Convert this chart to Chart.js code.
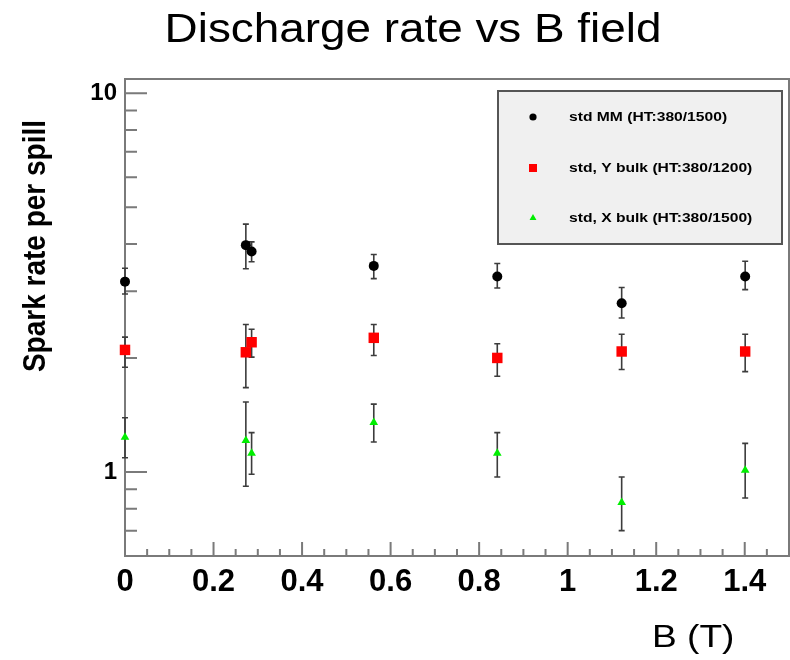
<!DOCTYPE html>
<html>
<head>
<meta charset="utf-8">
<title>Discharge rate vs B field</title>
<script src="https://cdn.jsdelivr.net/npm/chart.js@4.4.1/dist/chart.umd.min.js"></script>
<style>
  body { margin: 0; background: #ffffff; }
  #grafico { display: block; }
</style>
</head>
<body>
<canvas id="grafico" width="790" height="660"></canvas>
<script>
// Campo magnetico (T)
const bField = [0, 0.273, 0.286, 0.562, 0.841, 1.122, 1.401];

// std MM (HT:380/1500)
const mmRate = [3.18, 3.97, 3.82, 3.50, 3.28, 2.79, 3.28];
const mmLow  = [2.95, 3.44, 3.59, 3.24, 3.06, 2.55, 3.03];
const mmHigh = [3.45, 4.51, 4.05, 3.75, 3.55, 3.07, 3.60];

// std, Y bulk (HT:380/1200)
const yBulkRate = [2.10, 2.07, 2.20, 2.26, 2.00, 2.08, 2.08];
const yBulkLow  = [1.89, 1.67, 2.01, 2.03, 1.79, 1.865, 1.84];
const yBulkHigh = [2.27, 2.45, 2.38, 2.45, 2.18, 2.31, 2.31];

// std, X bulk (HT:380/1500)
const xBulkRate = [1.235, 1.21, 1.12, 1.35, 1.12, 0.83, 1.01];
const xBulkLow  = [1.09, 0.917, 0.986, 1.20, 0.97, 0.70, 0.854];
const xBulkHigh = [1.39, 1.53, 1.27, 1.51, 1.27, 0.97, 1.19];

const seriesLabels = ["std MM (HT:380/1500)", "std, Y bulk (HT:380/1200)", "std, X bulk (HT:380/1500)"];

const xTickValues = [0, 0.2, 0.4, 0.6, 0.8, 1.0, 1.2, 1.4];
const xTickLabels = ["0", "0.2", "0.4", "0.6", "0.8", "1", "1.2", "1.4"];
const yTickValues = [1, 10];
const yTickLabels = ["1", "10"];
const yMinorTicks = [0.6, 0.7, 0.8, 0.9, 2, 3, 4, 5, 6, 7, 8, 9];

const FONT = "'Liberation Sans', Arial, sans-serif";

function puntos(valores, bajos, altos) {
    return bField.map((b, i) => ({ x: b, y: valores[i], yMin: bajos[i], yMax: altos[i] }));
}

// Marco y marcas hacia dentro, estilo ROOT
const marco = {
    id: "marco",
    beforeDatasetsDraw(chart) {
        const ctx = chart.ctx;
        const a = chart.chartArea;
        const sx = chart.scales.x, sy = chart.scales.y;
        ctx.save();
        ctx.strokeStyle = "#7a7a7a";
        ctx.lineWidth = 2;
        ctx.strokeRect(a.left, a.top, a.right - a.left, a.bottom - a.top);
        ctx.beginPath();
        yTickValues.forEach(v => {
            const py = sy.getPixelForValue(v);
            ctx.moveTo(a.left, py); ctx.lineTo(a.left + 22, py);
        });
        yMinorTicks.forEach(v => {
            const py = sy.getPixelForValue(v);
            ctx.moveTo(a.left, py); ctx.lineTo(a.left + 12, py);
        });
        for (let i = 1; i <= 29; i++) {
            const px = sx.getPixelForValue(i * 0.05);
            const largo = i % 4 === 0 ? 14 : 7;
            ctx.moveTo(px, a.bottom); ctx.lineTo(px, a.bottom - largo);
        }
        ctx.stroke();
        ctx.restore();
    }
};

// Barras de error verticales
const barrasError = {
    id: "barrasError",
    beforeDatasetsDraw(chart) {
        const ctx = chart.ctx;
        const sx = chart.scales.x, sy = chart.scales.y;
        ctx.save();
        ctx.strokeStyle = "#3c3c3c";
        ctx.lineWidth = 1.6;
        chart.data.datasets.forEach(ds => {
            ds.data.forEach(p => {
                const px = sx.getPixelForValue(p.x);
                const top = sy.getPixelForValue(p.yMax);
                const bot = sy.getPixelForValue(p.yMin);
                ctx.beginPath();
                ctx.moveTo(px, top); ctx.lineTo(px, bot);
                ctx.moveTo(px - 3, top); ctx.lineTo(px + 3, top);
                ctx.moveTo(px - 3, bot); ctx.lineTo(px + 3, bot);
                ctx.stroke();
            });
        });
        ctx.restore();
    }
};

// Titulo, titulos de ejes y leyenda
const textos = {
    id: "textos",
    afterDraw(chart) {
        const ctx = chart.ctx;
        ctx.save();
        ctx.fillStyle = "#000000";

        // titulo
        ctx.save();
        ctx.translate(413, 42);
        ctx.scale(1.146, 1);
        ctx.font = "40px " + FONT;
        ctx.textAlign = "center";
        ctx.textBaseline = "alphabetic";
        ctx.fillText("Discharge rate vs B field", 0, 0);
        ctx.restore();

        // eje x
        ctx.save();
        ctx.translate(652, 647);
        ctx.scale(1.16, 1);
        ctx.font = "32px " + FONT;
        ctx.textAlign = "left";
        ctx.fillText("B (T)", 0, 0);
        ctx.restore();

        // eje y
        ctx.save();
        ctx.translate(45, 246);
        ctx.rotate(-Math.PI / 2);
        ctx.scale(1, 1.15);
        ctx.font = "bold 28px " + FONT;
        ctx.textAlign = "center";
        ctx.fillText("Spark rate per spill", 0, 0);
        ctx.restore();

        // leyenda
        ctx.fillStyle = "#f0f0f0";
        ctx.fillRect(498, 91, 284, 153);
        ctx.strokeStyle = "#555555";
        ctx.lineWidth = 2;
        ctx.strokeRect(498, 91, 284, 153);
        const filas = [117, 168, 218];
        chart.data.datasets.forEach((ds, i) => {
            ctx.fillStyle = ds.backgroundColor;
            Chart.helpers.drawPoint(ctx, { pointStyle: ds.pointStyle, radius: ds.legendRadius, borderWidth: 0, rotation: 0 }, 533, filas[i]);
            ctx.save();
            ctx.translate(569, filas[i]);
            ctx.scale(1.15, 1);
            ctx.fillStyle = "#000000";
            ctx.font = "bold 13.6px " + FONT;
            ctx.textBaseline = "middle";
            ctx.fillText(ds.label, 0, 0);
            ctx.restore();
        });
        ctx.restore();
    }
};

document.addEventListener("DOMContentLoaded", function () {
    const ctx = document.getElementById("grafico").getContext("2d");

    new Chart(ctx, {
        type: "scatter",
        data: {
            datasets: [
                {
                    label: seriesLabels[0],
                    data: puntos(mmRate, mmLow, mmHigh),
                    pointStyle: "circle",
                    pointRadius: 5,
                    legendRadius: 3.6,
                    backgroundColor: "#000000",
                    borderColor: "#000000",
                    borderWidth: 0,
                    clip: false
                },
                {
                    label: seriesLabels[1],
                    data: puntos(yBulkRate, yBulkLow, yBulkHigh),
                    pointStyle: "rect",
                    pointRadius: 7.4,
                    legendRadius: 5.7,
                    backgroundColor: "#ff0000",
                    borderColor: "#ff0000",
                    borderWidth: 0,
                    clip: false
                },
                {
                    label: seriesLabels[2],
                    data: puntos(xBulkRate, xBulkLow, xBulkHigh),
                    pointStyle: "triangle",
                    pointRadius: 5,
                    legendRadius: 4,
                    backgroundColor: "#00ee00",
                    borderColor: "#00ee00",
                    borderWidth: 0,
                    clip: false
                }
            ]
        },
        options: {
            responsive: false,
            animation: false,
            layout: { autoPadding: false, padding: { top: 79, right: 1, left: 0, bottom: 0 } },
            plugins: {
                legend: { display: false },
                tooltip: { enabled: false }
            },
            scales: {
                x: {
                    type: "linear",
                    min: 0,
                    max: 1.5,
                    afterFit: scale => { scale.height = 104; },
                    afterBuildTicks: scale => { scale.ticks = xTickValues.map(v => ({ value: v })); },
                    grid: { display: false, drawTicks: false },
                    border: { display: false },
                    ticks: {
                        autoSkip: false,
                        maxRotation: 0,
                        padding: 8,
                        color: "#000000",
                        font: { family: FONT, size: 31, weight: "bold" },
                        callback: v => xTickLabels[xTickValues.findIndex(t => Math.abs(t - v) < 1e-9)]
                    }
                },
                y: {
                    type: "logarithmic",
                    min: 0.6,
                    max: 10.9,
                    afterFit: scale => { scale.width = 125; },
                    afterBuildTicks: scale => { scale.ticks = yTickValues.map(v => ({ value: v })); },
                    grid: { display: false, drawTicks: false },
                    border: { display: false },
                    ticks: {
                        autoSkip: false,
                        padding: 8,
                        color: "#000000",
                        font: { family: FONT, size: 24, weight: "bold" },
                        callback: v => yTickLabels[yTickValues.indexOf(v)]
                    }
                }
            }
        },
        plugins: [marco, barrasError, textos]
    });
});
</script>
</body>
</html>
